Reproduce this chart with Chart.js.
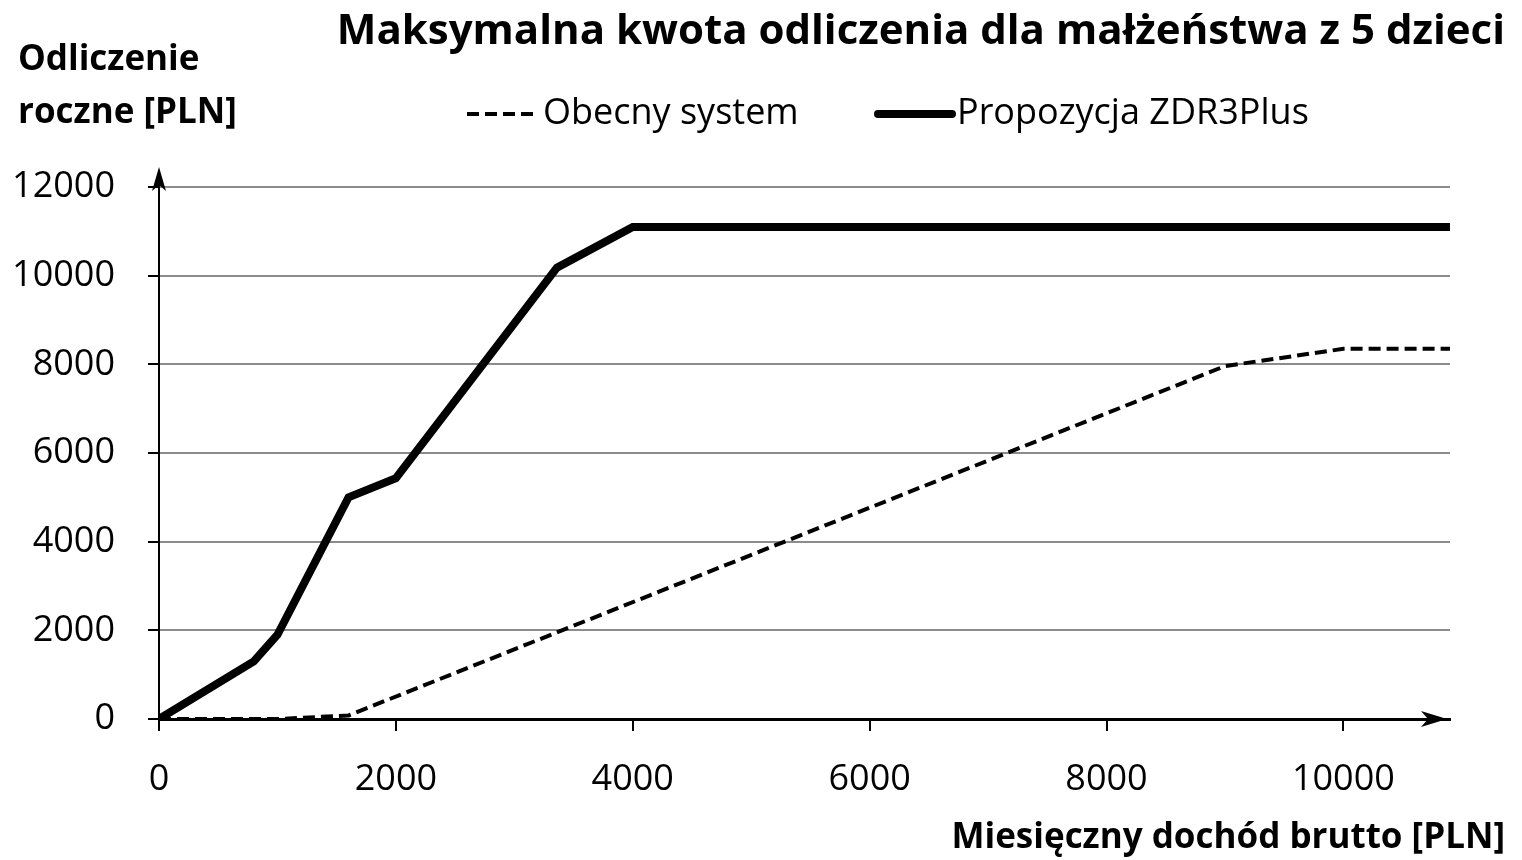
<!DOCTYPE html>
<html lang="pl">
<head>
<meta charset="utf-8">
<title>Maksymalna kwota odliczenia</title>
<script src="https://cdn.jsdelivr.net/npm/chart.js@4.4.1/dist/chart.umd.min.js"></script>
<style>
  html, body { margin: 0; padding: 0; background: #fff; }
</style>
</head>
<body>
<canvas id="wykres" width="1522" height="860"></canvas>
<script>
// dane
const obecnyX = [0, 1000, 1600, 9000, 10000, 10900];
const obecnyY = [0, 0, 80, 7960, 8350, 8350];
const propozycjaX = [0, 800, 1000, 1600, 2000, 3360, 4000, 10900];
const propozycjaY = [0, 1300, 1900, 5000, 5430, 10180, 11100, 11100];

const xTicks = [0, 2000, 4000, 6000, 8000, 10000];
const yTicks = [0, 2000, 4000, 6000, 8000, 10000, 12000];

const FONT = "'Open Sans', 'DejaVu Sans', sans-serif";

function punkty(xs, ys) {
  return xs.map((x, i) => ({ x: x, y: ys[i] }));
}

// tytul, legenda, opisy osi i strzalki
const opisy = {
  id: "opisy",
  afterDraw(chart) {
    const { ctx, chartArea } = chart;
    ctx.save();
    ctx.fillStyle = "#000";
    ctx.strokeStyle = "#000";

    // tytul
    ctx.font = "bold 42px " + FONT;
    ctx.textAlign = "right";
    ctx.textBaseline = "middle";
    ctx.fillText("Maksymalna kwota odliczenia dla małżeństwa z 5 dzieci", 1505, 32);

    // opis osi Y
    ctx.font = "bold 35px " + FONT;
    ctx.textAlign = "left";
    ctx.fillText("Odliczenie", 18, 60);
    ctx.fillText("roczne [PLN]", 18, 113);

    // opis osi X
    ctx.textAlign = "right";
    ctx.fillText("Miesięczny dochód brutto [PLN]", 1505, 838);

    // legenda
    const ds = chart.data.datasets;
    const legenda = [
      { x1: 467, x2: 535, tx: 543 },
      { x1: 878, x2: 952, tx: 957 },
    ];
    ctx.font = "36px " + FONT;
    ctx.textAlign = "left";
    legenda.forEach((l, i) => {
      ctx.save();
      ctx.lineWidth = ds[i].borderWidth;
      ctx.setLineDash(ds[i].borderDash || []);
      ctx.lineCap = i === 1 ? "round" : "butt";
      ctx.beginPath();
      ctx.moveTo(l.x1, 114);
      ctx.lineTo(l.x2, 114);
      ctx.stroke();
      ctx.restore();
      ctx.fillText(ds[i].label, l.tx, 114);
    });

    // strzalka osi Y
    const lx = chartArea.left;
    const top = chartArea.top;
    ctx.lineWidth = 2;
    ctx.beginPath();
    ctx.moveTo(lx, top);
    ctx.lineTo(lx, top - 14);
    ctx.stroke();
    ctx.beginPath();
    ctx.moveTo(lx, top - 20);
    ctx.lineTo(lx - 7, top + 4);
    ctx.lineTo(lx, top - 2);
    ctx.lineTo(lx + 7, top + 4);
    ctx.closePath();
    ctx.fill();

    // strzalka osi X
    const by = chartArea.bottom;
    const tip = chartArea.right - 3;
    ctx.beginPath();
    ctx.moveTo(tip, by);
    ctx.lineTo(tip - 26, by - 8);
    ctx.lineTo(tip - 19, by);
    ctx.lineTo(tip - 26, by + 8);
    ctx.closePath();
    ctx.fill();

    ctx.restore();
  },
};

new Chart(document.getElementById("wykres"), {
  type: "line",
  data: {
    datasets: [
      {
        label: "Obecny system",
        data: punkty(obecnyX, obecnyY),
        borderColor: "#000",
        borderWidth: 4,
        borderDash: [12, 6],
        pointRadius: 0,
        fill: false,
      },
      {
        label: "Propozycja ZDR3Plus",
        data: punkty(propozycjaX, propozycjaY),
        borderColor: "#000",
        borderWidth: 8,
        pointRadius: 0,
        fill: false,
      },
    ],
  },
  options: {
    responsive: false,
    animation: false,
    layout: { padding: { left: 0, right: 72, top: 187, bottom: 0 } },
    plugins: {
      legend: { display: false },
      title: { display: false },
      tooltip: { enabled: false },
    },
    scales: {
      x: {
        type: "linear",
        min: 0,
        max: 10900,
        afterFit: (s) => { s.height = 141; },
        afterBuildTicks: (s) => { s.ticks = xTicks.map((v) => ({ value: v })); },
        grid: {
          drawOnChartArea: false,
          drawTicks: true,
          tickLength: 12,
          tickColor: "#000",
          lineWidth: 2,
        },
        border: { color: "#000", width: 3 },
        ticks: {
          color: "#000",
          font: { family: FONT, size: 36 },
          padding: 27,
          maxRotation: 0,
          callback: (v) => String(v),
        },
      },
      y: {
        min: 0,
        max: 12000,
        afterFit: (s) => { s.width = 159; },
        afterBuildTicks: (s) => { s.ticks = yTicks.map((v) => ({ value: v })); },
        grid: {
          color: "#8c8c8c",
          lineWidth: 2,
          tickLength: 11,
          tickColor: "#000",
        },
        border: { color: "#000", width: 2 },
        ticks: {
          color: "#000",
          font: { family: FONT, size: 36 },
          padding: 33,
          callback: (v) => String(v),
        },
      },
    },
  },
  plugins: [opisy],
});
</script>
</body>
</html>
